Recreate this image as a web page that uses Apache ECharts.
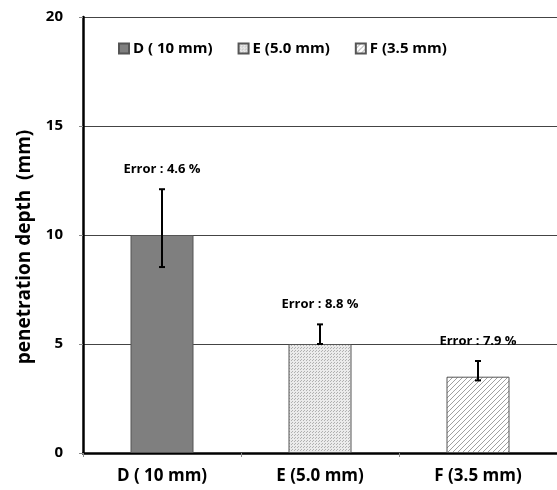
<!DOCTYPE html>
<html><head><meta charset="utf-8">
<script src="https://cdn.jsdelivr.net/npm/echarts@6/dist/echarts.min.js"></script>
<style>html,body{margin:0;padding:0;background:#fff}#c{width:557px;height:490px}</style>
</head><body><div id="c"></div>
<script>
const categories = ['D ( 10 mm)', 'E (5.0 mm)', 'F (3.5 mm)'];
const values = [10, 5, 3.5];
const errLow = [8.53, 5.0, 3.33];
const errHigh = [12.1, 5.9, 4.22];
const errLabels = ['Error : 4.6 %', 'Error : 8.8 %', 'Error : 7.9 %'];
const yTicks = [0, 5, 10, 15, 20];
const yTitle = 'penetration depth  (mm)';

function dotPattern() {
  const c = document.createElement('canvas'); c.width = 3; c.height = 3;
  const g = c.getContext('2d');
  g.fillStyle = '#ebebeb'; g.fillRect(0,0,3,3);
  g.fillStyle = '#b0b0b0'; g.fillRect(0,0,1,1); g.fillRect(1,2,1,1);
  return c;
}
function hatchPattern() {
  const c = document.createElement('canvas'); c.width = 5; c.height = 5;
  const g = c.getContext('2d');
  g.fillStyle = '#ffffff'; g.fillRect(0,0,5,5);
  g.strokeStyle = '#a0a0a0'; g.lineWidth = 1;
  g.beginPath();
  g.moveTo(0,5); g.lineTo(5,0);
  g.moveTo(-2.5,2.5); g.lineTo(2.5,-2.5);
  g.moveTo(2.5,7.5); g.lineTo(7.5,2.5);
  g.stroke();
  return c;
}
const fills = ['#7f7f7f', {image: dotPattern(), repeat: 'repeat'}, {image: hatchPattern(), repeat: 'repeat'}];
const font = '"Open Sans", "Noto Sans", sans-serif';

const chart = echarts.init(document.getElementById('c'));
const series = categories.map((name, i) => ({
  name: name,
  type: 'bar',
  barWidth: 63,
  barGap: '-100%',
  itemStyle: {color: fills[i], borderColor: '#555', borderWidth: 1},
  data: categories.map((_, j) => j === i ? values[j] : null),
  z: 2
}));
series.push({
  type: 'custom',
  name: 'err',
  z: 5,
  data: categories.map((_, i) => [i, errLow[i], errHigh[i]]),
  renderItem: function (params, api) {
    const i = api.value(0);
    const lo = api.coord([i, api.value(1)]);
    const hi = api.coord([i, api.value(2)]);
    const x = lo[0], hw = 3;
    return {type: 'group', children: [
      {type: 'line', shape: {x1: x, y1: lo[1], x2: x, y2: hi[1]}, style: {stroke: '#000', lineWidth: 2}},
      {type: 'line', shape: {x1: x - hw, y1: lo[1], x2: x + hw, y2: lo[1]}, style: {stroke: '#000', lineWidth: 2}},
      {type: 'line', shape: {x1: x - hw, y1: hi[1], x2: x + hw, y2: hi[1]}, style: {stroke: '#000', lineWidth: 2}},
      {type: 'text', style: {text: errLabels[i], x: x, y: hi[1] - 20, align: 'center', verticalAlign: 'middle',
        font: 'bold 13px ' + font, fill: '#000'}}
    ]};
  }
});

chart.setOption({
  animation: false,
  backgroundColor: '#fff',
  grid: {left: 83, right: 0, top: 17, bottom: 37},
  legend: {
    data: categories,
    top: 36, left: 113,
    itemWidth: 10, itemHeight: 10, itemGap: 25,
    icon: 'rect',
    textStyle: {fontFamily: font, fontWeight: 'bold', fontSize: 15, color: '#000', padding: [0,0,0,-1]}
  },
  graphic: [{
    type: 'text', rotation: Math.PI / 2, x: 25, y: 247,
    style: {text: yTitle, align: 'center', verticalAlign: 'middle', font: 'bold 19px ' + font, fill: '#000'}
  }],
  xAxis: {
    type: 'category', data: categories,
    axisLine: {lineStyle: {color: '#000', width: 2.5}},
    axisTick: {show: true, length: 4, lineStyle: {color: '#888'}},
    axisLabel: {fontFamily: font, fontWeight: 'bold', fontSize: 17, color: '#000', margin: 15}
  },
  yAxis: {
    type: 'value', min: yTicks[0], max: yTicks[yTicks.length - 1], interval: 5,
    axisLine: {show: true, lineStyle: {color: '#000', width: 2.5}},
    axisTick: {show: true, length: 4, lineStyle: {color: '#888'}},
    axisLabel: {fontFamily: font, fontWeight: 'bold', fontSize: 15, color: '#000', margin: 20},
    splitLine: {lineStyle: {color: '#444', width: 1}}
  },
  series: series
});
</script></body></html>
